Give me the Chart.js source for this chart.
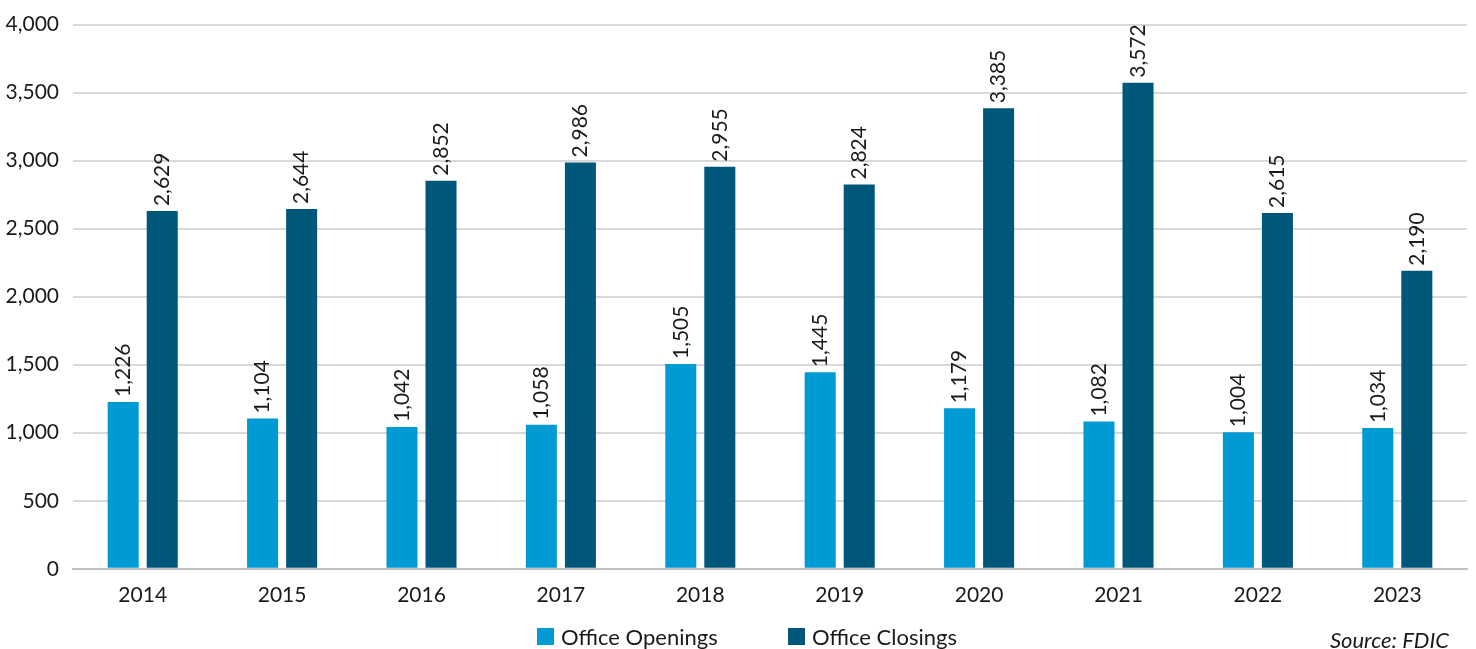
<!DOCTYPE html>
<html lang="en">
<head>
    <meta charset="UTF-8">
    <title>Office Openings and Closings</title>
    <script src="https://cdn.jsdelivr.net/npm/chart.js"></script>
    <style>
        html, body {
            margin: 0;
            padding: 0;
            background: #fff;
            overflow: hidden;
        }
        #wrap {
            width: 1476px;
            height: 649px;
        }
    </style>
</head>
<body>
    <div id="wrap"><canvas id="myChart"></canvas></div>

    <script>
        const years = ['2014', '2015', '2016', '2017', '2018', '2019', '2020', '2021', '2022', '2023'];
        const openings = [1226, 1104, 1042, 1058, 1505, 1445, 1179, 1082, 1004, 1034];
        const closings = [2629, 2644, 2852, 2986, 2955, 2824, 3385, 3572, 2615, 2190];

        const FONT = 'Lato, "Noto Sans", sans-serif';

        // vertical value labels above each bar
        const barLabelPlugin = {
            id: 'barLabelPlugin',
            afterDatasetsDraw(chart) {
                const {ctx} = chart;
                ctx.save();
                ctx.font = '21px ' + FONT;
                ctx.fillStyle = '#1a1a1a';
                ctx.textAlign = 'left';
                ctx.textBaseline = 'middle';
                chart.data.datasets.forEach((ds, i) => {
                    const meta = chart.getDatasetMeta(i);
                    meta.data.forEach((bar, j) => {
                        ctx.save();
                        ctx.translate(bar.x, bar.y - 5);
                        ctx.rotate(-Math.PI / 2);
                        ctx.fillText(ds.data[j].toLocaleString('en-US'), 0, 0);
                        ctx.restore();
                    });
                });
                ctx.restore();
            }
        };

        // legend at the bottom plus the source note
        const footerPlugin = {
            id: 'footerPlugin',
            afterDraw(chart) {
                const {ctx} = chart;
                ctx.save();
                ctx.font = '22px ' + FONT;
                ctx.fillStyle = '#1a1a1a';
                ctx.textBaseline = 'middle';
                const legendX = [537, 788];
                chart.data.datasets.forEach((ds, i) => {
                    ctx.fillStyle = ds.backgroundColor;
                    ctx.fillRect(legendX[i], 628, 17, 17);
                    ctx.fillStyle = '#1a1a1a';
                    ctx.textAlign = 'left';
                    ctx.fillText(ds.label, legendX[i] + 24, 638);
                });
                ctx.font = 'italic 22px ' + FONT;
                ctx.textAlign = 'right';
                ctx.fillText('Source: FDIC', 1449, 641);
                ctx.restore();
            }
        };

        const config = {
            type: 'bar',
            data: {
                labels: years,
                datasets: [{
                    label: 'Office Openings',
                    data: openings,
                    backgroundColor: '#009BD4',
                    categoryPercentage: 0.56,
                    barPercentage: 0.795
                }, {
                    label: 'Office Closings',
                    data: closings,
                    backgroundColor: '#00577A',
                    categoryPercentage: 0.56,
                    barPercentage: 0.795
                }]
            },
            options: {
                responsive: true,
                maintainAspectRatio: false,
                animation: false,
                layout: {
                    padding: {top: 0, right: 9, left: 0, bottom: 35}
                },
                scales: {
                    x: {
                        grid: {display: false},
                        border: {color: '#bfbfbf', width: 2},
                        ticks: {color: '#1a1a1a', font: {family: FONT, size: 21}, padding: 6}
                    },
                    y: {
                        min: 0,
                        max: 4000,
                        grid: {color: '#d9d9d9', lineWidth: 2, drawTicks: false},
                        border: {display: false},
                        ticks: {
                            stepSize: 500,
                            color: '#1a1a1a',
                            padding: 14,
                            font: {family: FONT, size: 21, lineHeight: 1},
                            callback: v => v.toLocaleString('en-US')
                        },
                        afterFit(scale) { scale.width = 73; }
                    }
                },
                plugins: {
                    tooltip: {enabled: false},
                    legend: {display: false}
                }
            },
            plugins: [barLabelPlugin, footerPlugin]
        };

        const ctx = document.getElementById('myChart').getContext('2d');
        new Chart(ctx, config);
    </script>
</body>
</html>
